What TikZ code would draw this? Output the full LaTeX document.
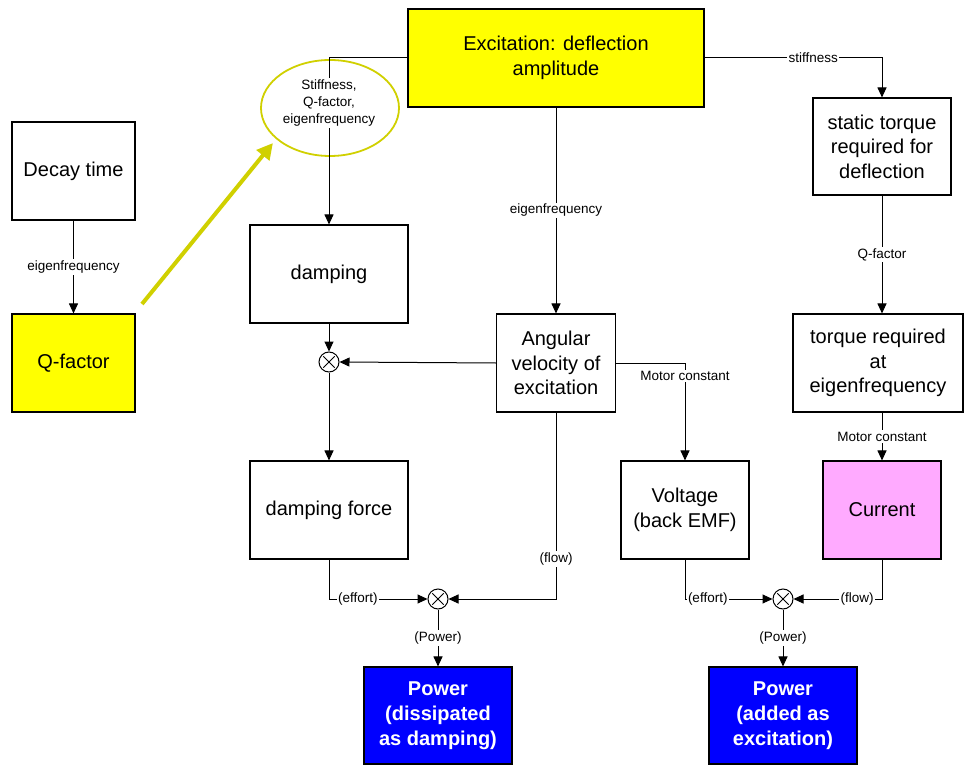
\documentclass[tikz,border=0pt]{standalone}
\usepackage{fontspec}
\setmainfont{Liberation Sans}
\usetikzlibrary{arrows.meta,calc,shapes.geometric}
\definecolor{boxyellow}{RGB}{255,255,0}
\definecolor{boxblue}{RGB}{0,0,255}
\definecolor{boxpink}{RGB}{255,170,255}
\definecolor{olive}{RGB}{208,208,0}
\begin{document}
\begin{tikzpicture}[x=1pt,y=-1pt,
  box/.style={draw, line width=1.1pt, align=center, inner sep=2pt,
    font=\fontsize{20}{24.5}\selectfont, minimum height=98},
  powerbox/.style={box, fill=boxblue, text=white,
    font=\fontsize{20}{25}\selectfont\bfseries, minimum width=148, minimum height=97},
  lbl/.style={fill=white, font=\fontsize{13.5}{17}\selectfont, inner sep=1.5pt, align=center},
  conn/.style={line width=1pt, -{Triangle[length=10pt,width=9pt]}},
  otimes/.style={circle, draw, line width=1pt, minimum size=20, inner sep=0pt,
    path picture={
      \draw[line width=0.9pt] ([shift={(45:8)}]path picture bounding box.center)
        -- ([shift={(225:8)}]path picture bounding box.center);
      \draw[line width=0.9pt] ([shift={(135:8)}]path picture bounding box.center)
        -- ([shift={(315:8)}]path picture bounding box.center);}},
  hint/.style={line width=4pt, draw=olive, -{Triangle[length=16pt,width=16pt]}}
]
\useasboundingbox (0,0) rectangle (964,765);

% boxes
\node[box, fill=boxyellow, minimum width=296] (exc) at (556,58) {Excitation: deflection\\amplitude};
\node[box, minimum width=123] (decay) at (73.5,171) {Decay time};
\node[box, fill=boxyellow, minimum width=123] (qf) at (73.5,363) {Q-factor};
\node[box, minimum width=158] (damp) at (329,274) {damping};
\node[box, minimum width=119] (angv) at (556,363) {Angular\\velocity of\\excitation};
\node[box, minimum width=158] (dforce) at (329,510) {damping force};
\node[box, minimum width=128] (volt) at (685,510) {Voltage\\(back EMF)};
\node[box, fill=boxpink, minimum width=118] (curr) at (882,510) {Current};
\node[box, minimum width=138, minimum height=97] (stor) at (882,146.5) {static torque\\required for\\deflection};
\node[box, minimum width=170] (teig) at (878,363) {torque required\\at\\eigenfrequency};
\node[powerbox] (pd) at (438,715.5) {Power\\(dissipated\\as damping)};
\node[powerbox] (pa) at (783,715.5) {Power\\(added as\\excitation)};

% multipliers
\node[otimes] (o1) at (329,362) {};
\node[otimes] (o2) at (438,599) {};
\node[otimes] (o3) at (783,599) {};

% highlighted parameter group
\node[ellipse, draw=olive, line width=1.8pt, minimum width=138, minimum height=96] (ell) at (330,108) {};
\coordinate (hintbase) at (142,304);
\draw[hint, shorten >=5pt] (hintbase) -- (ell.210);

% connectors
\draw[conn] (exc.west) -| node[lbl, pos=0.635] {Stiffness,\\Q-factor,\\eigenfrequency} (damp.north);
\draw[conn] (decay.south) -- node[lbl] {eigenfrequency} (qf.north);
\draw[conn] (exc.south) -- node[lbl] {eigenfrequency} (angv.north);
\draw[conn] (exc.east) -| node[lbl, pos=0.306] {stiffness} (stor.north);
\draw[conn] (stor.south) -- node[lbl] {Q-factor} (stor.south |- teig.north);
\draw[conn] (curr.north |- teig.south) -- node[lbl] {Motor constant} (curr.north);
\draw[conn] (angv.east) -| node[lbl, pos=0.566] {Motor constant} (volt.north);
\draw[conn] (angv.west) -- (o1.east);
\draw[conn] (damp.south) -- (o1.north);
\draw[conn] (o1.south) -- (dforce.north);
\draw[conn] (dforce.south) |- node[lbl, pos=0.646] {(effort)} (o2.west);
\draw[conn] (angv.south) |- node[lbl, pos=0.393] {(flow)} (o2.east);
\draw[conn] (o2.south) -- node[lbl] {(Power)} (pd.north);
\draw[conn] (volt.south) |- node[lbl, pos=0.63] {(effort)} (o3.west);
\draw[conn] (curr.south) |- node[lbl, pos=0.64] {(flow)} (o3.east);
\draw[conn] (o3.south) -- node[lbl] {(Power)} (pa.north);
\end{tikzpicture}
\end{document}
